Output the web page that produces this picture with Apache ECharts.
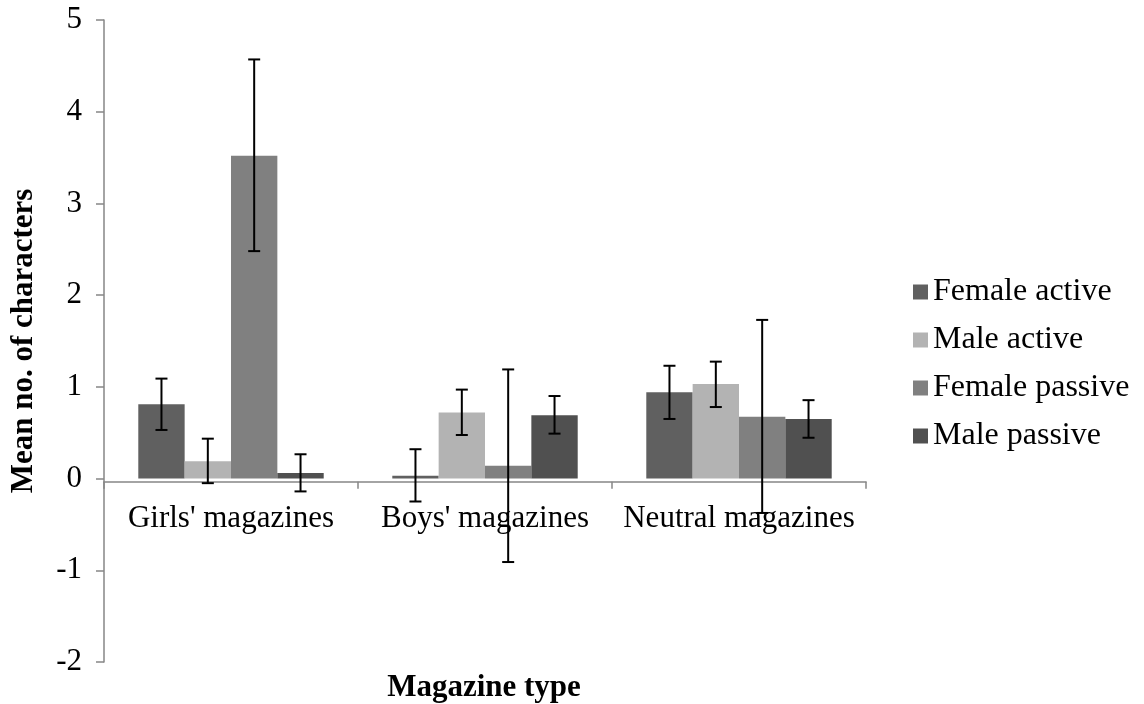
<!DOCTYPE html>
<html>
<head>
<meta charset="utf-8">
<script src="https://cdn.jsdelivr.net/npm/echarts@6/dist/echarts.min.js"></script>
<style>html,body{margin:0;padding:0;background:#fff;}#c{width:1144px;height:704px;}</style>
</head>
<body>
<div id="c"></div>
<script>
var categories = ["Girls' magazines", "Boys' magazines", "Neutral magazines"];
var seriesNames = ["Female active", "Male active", "Female passive", "Male passive"];
var femaleActive = [0.81, 0.03, 0.94];
var maleActive = [0.19, 0.72, 1.03];
var femalePassive = [3.52, 0.14, 0.675];
var malePassive = [0.06, 0.69, 0.65];
var femaleActiveErr = [[0.53, 1.09], [-0.25, 0.32], [0.65, 1.23]];
var maleActiveErr = [[-0.05, 0.435], [0.475, 0.97], [0.78, 1.275]];
var femalePassiveErr = [[2.48, 4.57], [-0.91, 1.19], [-0.375, 1.73]];
var malePassiveErr = [[-0.14, 0.265], [0.49, 0.90], [0.445, 0.855]];
var yTicks = [-2, -1, 0, 1, 2, 3, 4, 5];

var colors = ['#606060', '#b3b3b3', '#808080', '#505050'];
var values = [femaleActive, maleActive, femalePassive, malePassive];
var errs = [femaleActiveErr, maleActiveErr, femalePassiveErr, malePassiveErr];
var gapRatio = 0.27;
var font = 'Liberation Serif';
var fs = 31;

var series = [];
seriesNames.forEach(function (n, i) {
  series.push({
    name: n, type: 'bar', data: values[i], barGap: '0%', barCategoryGap: (gapRatio * 100) + '%',
    itemStyle: { color: colors[i] }, z: 2
  });
});
errs.forEach(function (e, k) {
  series.push({
    type: 'custom', z: 5,
    data: e.map(function (d, j) { return [j, d[0], d[1]]; }),
    encode: { x: 0, y: [1, 2] },
    renderItem: function (params, api) {
      var x = api.value(0);
      var lo = api.coord([x, api.value(1)]);
      var hi = api.coord([x, api.value(2)]);
      var band = api.size([1, 0])[0];
      var bw = band * (1 - gapRatio) / 4;
      var cx = lo[0] + (k - 1.5) * bw;
      var cap = 6;
      var st = { stroke: '#000', lineWidth: 2 };
      return {
        type: 'group', children: [
          { type: 'line', shape: { x1: cx, y1: lo[1], x2: cx, y2: hi[1] }, style: st },
          { type: 'line', shape: { x1: cx - cap, y1: lo[1], x2: cx + cap, y2: lo[1] }, style: st },
          { type: 'line', shape: { x1: cx - cap, y1: hi[1], x2: cx + cap, y2: hi[1] }, style: st }
        ]
      };
    }
  });
});

var chart = echarts.init(document.getElementById('c'));
chart.setOption({
  animation: false,
  backgroundColor: '#fff',
  textStyle: { fontFamily: font },
  grid: { left: 103, right: 278, top: 20, bottom: 42, containLabel: false },
  legend: {
    data: seriesNames, orient: 'vertical', left: 908, top: 271,
    itemWidth: 15, itemHeight: 15, itemGap: 16, icon: 'rect',
    textStyle: { fontFamily: font, fontSize: 32, color: '#000', lineHeight: 32 }
  },
  xAxis: {
    type: 'category', data: categories,
    axisLine: { show: true, onZero: false, lineStyle: { color: '#868686', width: 1.5 } },
    axisTick: { show: true, length: 7, lineStyle: { color: '#868686', width: 1.5 } },
    axisLabel: { fontFamily: font, fontSize: fs, color: '#000', margin: 22, interval: 0, hideOverlap: false },
    splitLine: { show: false }
  },
  yAxis: {
    type: 'value', min: yTicks[0], max: yTicks[yTicks.length - 1], interval: 1,
    name: 'Mean no. of characters', nameLocation: 'middle', nameGap: 65, nameRotate: 90,
    nameTextStyle: { fontFamily: font, fontSize: fs, fontWeight: 'bold', color: '#000' },
    axisLine: { show: true, lineStyle: { color: '#868686', width: 1.5 } },
    axisTick: { show: true, length: 8, lineStyle: { color: '#868686', width: 1.5 } },
    axisLabel: { fontFamily: font, fontSize: fs, color: '#000', margin: 22 },
    splitLine: { show: false }
  },
  graphic: [{
    type: 'text', x: 484, y: 688,
    style: { text: 'Magazine type', font: 'bold 31px "Liberation Serif"', fill: '#000', textAlign: 'center', textVerticalAlign: 'middle' }
  }],
  series: series
});
// place the category axis on the zero line of the value axis
var zeroY = chart.convertToPixel({ yAxisIndex: 0 }, 0);
var bottomY = chart.convertToPixel({ yAxisIndex: 0 }, yTicks[0]);
chart.setOption({ xAxis: { offset: -(bottomY - zeroY) } });
</script>
</body>
</html>
